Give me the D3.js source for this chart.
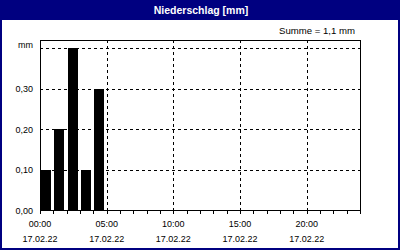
<!DOCTYPE html>
<html lang="de">
<head>
	<meta charset="UTF-8">
	<title>Niederschlag</title>
	<style>
		body { margin: 0; background: #fff; }
		text { font-family: "Liberation Sans", Arial, sans-serif; fill: #000; }
	</style>
</head>
<body>
	<script src="https://d3js.org/d3.v7.min.js"></script>
	<script type="text/javascript">
		// data
		var hours = [0, 1, 2, 3, 4];
		var values = [0.1, 0.2, 0.4, 0.1, 0.3];
		var yTicks = [0, 0.1, 0.2, 0.3, 0.4];
		var yLabels = ["0,00", "0,10", "0,20", "0,30", "mm"];
		var xTicks = [0, 5, 10, 15, 20];
		var xLabels = ["00:00", "05:00", "10:00", "15:00", "20:00"];
		var dateLabel = "17.02.22";
		var title = "Niederschlag [mm]";
		var summe = "Summe = 1,1 mm";

		var width = 400;
		var height = 250;
		var padding = {left:40, right:40, top:40, bottom:40};

		var svg = d3.select("body").append("svg").attr("width",width).attr("height",height);

		// background + border
		svg.append("rect")
			.attr("x",1).attr("y",1)
			.attr("width",width-2).attr("height",height-2)
			.attr("fill","#fff")
			.attr("stroke","#000080")
			.attr("stroke-width",2);

		// title bar
		svg.append("rect")
			.attr("x",0).attr("y",0)
			.attr("width",width).attr("height",20)
			.attr("fill","#000080");
		svg.append("text")
			.attr("x",201).attr("y",14)
			.attr("text-anchor","middle")
			.attr("font-size","10.5px")
			.attr("font-weight","bold")
			.style("fill","#fff")
			.text(title);

		svg.append("text")
			.attr("x",355).attr("y",34)
			.attr("text-anchor","end")
			.attr("font-size","9.6px")
			.text(summe);

		var xScale = d3.scaleLinear().domain([0,24]).range([padding.left, width-padding.right]);
		var yScale = d3.scaleLinear().domain([0,0.42]).range([height-padding.bottom, padding.top]);

		var plotTop = padding.top, plotBottom = height-padding.bottom;

		// gridlines
		svg.selectAll(".hgrid")
			.data(yTicks.slice(1))
			.enter()
			.append("line")
			.attr("x1",xScale(0)).attr("x2",xScale(24))
			.attr("y1",function(d){ return Math.round(yScale(d)) + 0.5; })
			.attr("y2",function(d){ return Math.round(yScale(d)) + 0.5; })
			.attr("stroke","#000")
			.attr("stroke-dasharray","3,3")
			.attr("shape-rendering","crispEdges");

		svg.selectAll(".vgrid")
			.data(xTicks.slice(1))
			.enter()
			.append("line")
			.attr("x1",function(d){ return Math.round(xScale(d)) + 0.5; })
			.attr("x2",function(d){ return Math.round(xScale(d)) + 0.5; })
			.attr("y1",plotTop).attr("y2",plotBottom)
			.attr("stroke","#000")
			.attr("stroke-dasharray","3,3")
			.attr("shape-rendering","crispEdges");

		// bars
		svg.selectAll(".bar")
			.data(values)
			.enter()
			.append("rect")
			.attr("x",function(d,i){ return Math.round(xScale(hours[i])) + 1; })
			.attr("y",function(d){ return Math.round(yScale(d)); })
			.attr("width",function(d,i){ return Math.round(xScale(hours[i]+1) - xScale(hours[i])) - 3; })
			.attr("height",function(d){ return plotBottom - Math.round(yScale(d)); })
			.attr("fill","#000");

		// plot frame
		svg.append("rect")
			.attr("x",padding.left + 0.5).attr("y",plotTop + 0.5)
			.attr("width",width-padding.left-padding.right)
			.attr("height",plotBottom-plotTop)
			.attr("fill","none")
			.attr("stroke","#000")
			.attr("shape-rendering","crispEdges");

		// hourly ticks
		var xAxis = d3.axisBottom(xScale).tickValues(d3.range(0,25)).tickSize(3).tickFormat("");
		var gx = svg.append("g")
			.attr("transform","translate(0," + (plotBottom + 0.5) + ")")
			.call(xAxis);
		gx.select(".domain").remove();
		gx.selectAll("line").attr("shape-rendering","crispEdges");

		// x labels
		svg.selectAll(".xl")
			.data(xTicks)
			.enter()
			.append("text")
			.attr("x",function(d){ return xScale(d); })
			.attr("y",227)
			.attr("text-anchor","middle")
			.attr("font-size","9px")
			.text(function(d,i){ return xLabels[i]; });
		svg.selectAll(".xd")
			.data(xTicks)
			.enter()
			.append("text")
			.attr("x",function(d){ return xScale(d); })
			.attr("y",242)
			.attr("text-anchor","middle")
			.attr("font-size","9px")
			.text(dateLabel);

		// y labels
		svg.selectAll(".yl")
			.data(yTicks)
			.enter()
			.append("text")
			.attr("x",33)
			.attr("y",function(d,i){ return i == yTicks.length-1 ? yScale(d) : yScale(d) + 3.5; })
			.attr("text-anchor","end")
			.attr("font-size","9px")
			.text(function(d,i){ return yLabels[i]; });
	</script>
</body>
</html>
